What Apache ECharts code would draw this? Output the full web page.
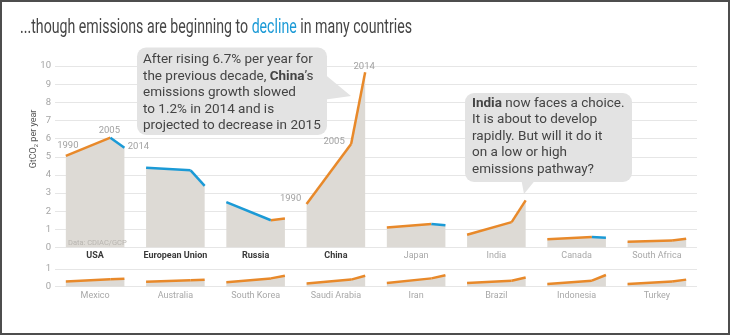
<!DOCTYPE html>
<html>
<head>
<meta charset="utf-8">
<script src="https://cdn.jsdelivr.net/npm/echarts@6/dist/echarts.min.js"></script>
<style>
  html, body { margin: 0; padding: 0; background: #fff; }
  #chart { width: 730px; height: 335px; }
</style>
</head>
<body>
<div id="chart"></div>
<script>
// Sample years shown for every country
const years = [1990, 2005, 2014];

// Large emitters (GtCO2 per year)
const topCountries = ['USA', 'European Union', 'Russia', 'China', 'Japan', 'India', 'Canada', 'South Africa'];
const topEmissions = [
  [5.05, 6.05, 5.5],
  [4.4, 4.25, 3.4],
  [2.5, 1.5, 1.6],
  [2.4, 5.7, 9.65],
  [1.1, 1.3, 1.22],
  [0.7, 1.4, 2.6],
  [0.45, 0.58, 0.54],
  [0.31, 0.38, 0.48]
];

// Smaller emitters (GtCO2 per year)
const bottomCountries = ['Mexico', 'Australia', 'South Korea', 'Saudi Arabia', 'Iran', 'Brazil', 'Indonesia', 'Turkey'];
const bottomEmissions = [
  [0.3, 0.42, 0.45],
  [0.28, 0.37, 0.39],
  [0.25, 0.47, 0.62],
  [0.18, 0.4, 0.62],
  [0.21, 0.47, 0.65],
  [0.21, 0.34, 0.52],
  [0.15, 0.34, 0.66],
  [0.15, 0.3, 0.4]
];

// Countries highlighted in the upper row
const highlighted = ['USA', 'European Union', 'Russia', 'China'];

// Axis ticks
const topTicks = [0, 10];
const bottomTicks = [0, 1];

const ORANGE = '#E8892A';
const BLUE = '#1B9AD6';
const AREA = '#DDDAD5';
const GRID = '#E6E6E6';
const BUBBLE = '#E3E3E3';
const FONT = 'Roboto, "Noto Sans", sans-serif';

// Horizontal placement of each sample year inside a country's slot
const slotPos = [0.135, 0.69, 0.865];

// Year annotations: country index -> label offsets per year
const yearLabelOffsets = {
  0: [[2, -10], [-1, -7], [14, -1.5]],
  3: [[-16, -5.5], [-17, -2.5], [-1, -6]]
};

function buildPanel(values, panel) {
  const out = [];
  const xIdx = panel * 2;
  values.forEach((vals, i) => {
    const pts = vals.map((v, k) => [i + slotPos[k], v]);
    out.push({
      type: 'line', xAxisIndex: xIdx, yAxisIndex: panel,
      data: pts, symbol: 'none', silent: true, z: 1,
      lineStyle: { width: 0 },
      areaStyle: { color: AREA, opacity: 1 }
    });
    for (let k = 0; k < pts.length - 1; k++) {
      out.push({
        type: 'line', xAxisIndex: xIdx, yAxisIndex: panel,
        data: [pts[k], pts[k + 1]], symbol: 'none', silent: true, z: 3,
        lineStyle: { width: 2.5, color: vals[k + 1] >= vals[k] ? ORANGE : BLUE }
      });
    }
  });
  return out;
}

const yearLabelData = [];
Object.keys(yearLabelOffsets).forEach(key => {
  const i = +key;
  topEmissions[i].forEach((v, k) => {
    yearLabelData.push({
      value: [i + slotPos[k], v],
      label: { offset: yearLabelOffsets[i][k], formatter: String(years[k]) }
    });
  });
});

// Fit a string to a width by squeezing it horizontally
function squeeze(text, font, width) {
  const ctx = document.createElement('canvas').getContext('2d');
  ctx.font = font;
  return width / ctx.measureText(text).width;
}

const titleText = '...though emissions are beginning to decline in many countries';
const titleScale = squeeze(titleText, '20px Roboto', 392);

function valueAxis(gridIndex, ticks) {
  return {
    type: 'value', gridIndex, min: ticks[0], max: ticks[1], interval: 1,
    axisLine: { show: false }, axisTick: { show: false },
    axisLabel: { color: '#A5A5A5', fontSize: 9.5, margin: 4, fontFamily: FONT },
    splitLine: { lineStyle: { color: GRID, width: 1 } }
  };
}

function callout(box, pointer, textPos, text) {
  return [
    { type: 'polygon', z: 50, silent: true, shape: { points: pointer }, style: { fill: BUBBLE } },
    { type: 'rect', z: 50, silent: true, shape: Object.assign({ r: 9 }, box), style: { fill: BUBBLE } },
    {
      type: 'text', z: 51, silent: true, x: textPos[0], y: textPos[1],
      style: {
        text, fontSize: 13.5, lineHeight: 16.5, fontFamily: FONT, fill: '#444',
        rich: { b: { fontWeight: 'bold', fontSize: 13.5, lineHeight: 16.5, fontFamily: FONT, fill: '#444' } }
      }
    }
  ];
}

const chart = echarts.init(document.getElementById('chart'), null, { renderer: 'canvas' });

const option = {
  animation: false,
  backgroundColor: '#fff',
  textStyle: { fontFamily: FONT },
  grid: [
    { left: 55, width: 642, top: 66, height: 181.5 },
    { left: 55, width: 642, top: 269, height: 17.7 }
  ],
  xAxis: [
    { type: 'value', gridIndex: 0, min: 0, max: 8, show: false },
    {
      type: 'category', gridIndex: 0, position: 'bottom',
      data: topCountries.map(c => highlighted.includes(c)
        ? { value: c, textStyle: { color: '#3A3A3A', fontWeight: 'bold' } }
        : { value: c, textStyle: { color: '#A8A8A8' } }),
      axisLine: { show: false }, axisTick: { show: false }, splitLine: { show: false },
      axisLabel: { fontSize: 9, margin: 4, interval: 0, fontFamily: FONT }
    },
    { type: 'value', gridIndex: 1, min: 0, max: 8, show: false },
    {
      type: 'category', gridIndex: 1, position: 'bottom', data: bottomCountries,
      axisLine: { show: false }, axisTick: { show: false }, splitLine: { show: false },
      axisLabel: { fontSize: 9, margin: 5, interval: 0, color: '#A8A8A8', fontFamily: FONT }
    }
  ],
  yAxis: [valueAxis(0, topTicks), valueAxis(1, bottomTicks)],
  series: [
    ...buildPanel(topEmissions, 0),
    ...buildPanel(bottomEmissions, 1),
    {
      type: 'scatter', xAxisIndex: 0, yAxisIndex: 0, z: 5, silent: true,
      symbolSize: 1, itemStyle: { color: 'rgba(0,0,0,0)' },
      label: { show: true, position: 'inside', color: '#8A8A8A', fontSize: 9.5, fontFamily: FONT },
      data: yearLabelData
    }
  ],
  graphic: [
    // frame
    {
      type: 'rect', z: 100, silent: true,
      shape: { x: 1, y: 1, width: 728, height: 333 },
      style: { fill: 'none', stroke: '#4D4D4D', lineWidth: 2 }
    },
    // headline
    {
      type: 'text', x: 20, y: 28, scaleX: titleScale, z: 10,
      style: {
        text: '...though emissions are beginning to {hl|decline} in many countries',
        fontSize: 20, fontFamily: 'Roboto', fill: '#454545', verticalAlign: 'middle',
        rich: { hl: { fontSize: 20, fontFamily: 'Roboto', fill: BLUE } }
      }
    },
    // y axis title
    {
      type: 'text', x: 34, y: 139, rotation: Math.PI / 2, z: 10,
      style: {
        text: 'GtCO{sub|2} per year', fontSize: 9, fontFamily: FONT, fill: '#555',
        align: 'center', verticalAlign: 'middle',
        rich: { sub: { fontSize: 6, fill: '#555', padding: [5, 0, 0, 0] } }
      }
    },
    // source
    {
      type: 'text', x: 68, y: 243, z: 10,
      style: { text: 'Data: CDIAC/GCP', fontSize: 7.5, fontFamily: FONT, fill: '#B8B5B0', verticalAlign: 'middle' }
    },
    // China callout
    ...callout(
      { x: 137, y: 47.5, width: 190, height: 87.5 },
      [[322, 72], [351, 96], [322, 100]],
      [143, 51.5],
      'After rising 6.7% per year for\nthe previous decade, {b|China}’s\nemissions growth slowed\nto 1.2% in 2014 and is\nprojected to decrease in 2015'
    ),
    // India callout
    ...callout(
      { x: 465, y: 93, width: 167, height: 89 },
      [[521, 178], [537, 178], [524, 194]],
      [472, 95],
      '{b|India} now faces a choice.\nIt is about to develop\nrapidly. But will it do it\non a low or high\nemissions pathway?'
    )
  ]
};

chart.setOption(option);
</script>
</body>
</html>
